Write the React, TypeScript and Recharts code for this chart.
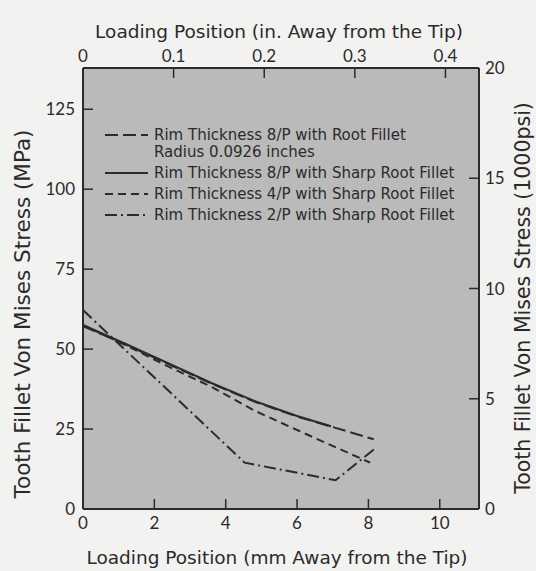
import { LineChart, Line, XAxis, YAxis, CartesianGrid } from "recharts";

// loading position in mm, stress in MPa
const rootFilletX = [0, 1.2, 2.4, 3.6, 4.8, 6.0, 6.95, 8.15];
const rootFilletY = [57.2, 51.4, 45.3, 39.2, 33.6, 28.9, 25.8, 21.8];
const sharp8X = [0, 1.2, 2.4, 3.6, 4.8, 6.0, 6.95];
const sharp8Y = [57.6, 51.6, 45.5, 39.4, 33.8, 29.1, 25.9];
const sharp4X = [0, 1.2, 2.4, 3.6, 4.8, 6.0, 7.2, 8.05];
const sharp4Y = [57.5, 51.2, 44.5, 38.2, 30.8, 24.7, 18.7, 14.5];
const sharp2X = [0, 4.53, 7.08, 8.16];
const sharp2Y = [62.2, 14.5, 9.0, 18.7];

const mmTicks = [0, 2, 4, 6, 8, 10];
const inchTicks = [0, 0.1, 0.2, 0.3, 0.4];
const mpaTicks = [0, 25, 50, 75, 100, 125];
const ksiTicks = [0, 5, 10, 15, 20];

const X_MAX_MM = 11.1;
const MM_PER_INCH = 25.4;
const Y_MAX_KSI = 20;
const MPA_PER_KSI = 6.895;

const toPoints = (xs: number[], ys: number[]) => xs.map((x, i) => ({ x, y: ys[i] }));

const series = [
  { name: "Rim Thickness 8/P with Root Fillet", sub: "Radius 0.0926 inches", data: toPoints(rootFilletX, rootFilletY), dash: "13 5" },
  { name: "Rim Thickness 8/P with Sharp Root Fillet", data: toPoints(sharp8X, sharp8Y), dash: undefined },
  { name: "Rim Thickness 4/P with Sharp Root Fillet", data: toPoints(sharp4X, sharp4Y), dash: "8 5" },
  { name: "Rim Thickness 2/P with Sharp Root Fillet", data: toPoints(sharp2X, sharp2Y), dash: "12 4 2 4" },
];

const INK = "#2b2b2b";
const TICK_FONT = "Lato, sans-serif";
const TEXT_FONT = "'DejaVu Sans', sans-serif";
const tickStyle = { fontSize: 17, fill: INK, fontFamily: TICK_FONT };
const axisLine = { stroke: INK, strokeWidth: 2 };
const tickLine = { stroke: INK, strokeWidth: 1.5 };

const Overlay = () => {
  let rowY = 135;
  return (
    <svg width={536} height={571} style={{ position: "absolute", left: 0, top: 0, pointerEvents: "none" }}>
      <g fontFamily={TEXT_FONT} fill={INK}>
        <text x={279} y={38} fontSize={18.5} textAnchor="middle">Loading Position (in. Away from the Tip)</text>
        <text x={277} y={564} fontSize={18.5} textAnchor="middle">Loading Position (mm Away from the Tip)</text>
        <text x={30} y={314} fontSize={21.5} textAnchor="middle" transform="rotate(-90 30 314)">
          Tooth Fillet Von Mises Stress (MPa)
        </text>
        <text x={530} y={298} fontSize={20.5} textAnchor="middle" transform="rotate(-90 530 298)">
          Tooth Fillet Von Mises Stress (1000psi)
        </text>
      </g>
      <g fontFamily={TEXT_FONT} fill={INK} fontSize={15}>
        {series.map((s) => {
          const y = rowY;
          rowY += s.sub ? 38 : 21;
          return (
            <g key={s.name}>
              <line x1={105} x2={148} y1={y} y2={y} stroke={INK} strokeWidth={2} strokeDasharray={s.dash} />
              <text x={154} y={y + 5}>{s.name}</text>
              {s.sub && <text x={154} y={y + 22}>{s.sub}</text>}
            </g>
          );
        })}
      </g>
    </svg>
  );
};

const App = () => (
  <div style={{ position: "absolute", left: 0, top: 0, width: 536, height: 571, background: "#f2f2f0" }}>
    <LineChart width={536} height={571} margin={{ top: 43, right: 17, bottom: 37, left: 43 }}>
      <CartesianGrid xAxisId="bottom" yAxisId="left" fill="#bababa" stroke="none" />
      <XAxis
        xAxisId="bottom"
        dataKey="x"
        type="number"
        domain={[0, X_MAX_MM]}
        ticks={mmTicks}
        allowDataOverflow
        height={25}
        tickSize={-10}
        tickMargin={18}
        axisLine={axisLine}
        tickLine={tickLine}
        tick={tickStyle}
      />
      <XAxis
        xAxisId="top"
        dataKey="x"
        orientation="top"
        type="number"
        domain={[0, X_MAX_MM]}
        ticks={inchTicks.map((v) => v * MM_PER_INCH)}
        tickFormatter={(_v: number, i: number) => String(inchTicks[i])}
        allowDataOverflow
        height={25}
        tickSize={-10}
        tickMargin={16}
        axisLine={axisLine}
        tickLine={tickLine}
        tick={tickStyle}
      />
      <YAxis
        yAxisId="left"
        type="number"
        domain={[0, Y_MAX_KSI * MPA_PER_KSI]}
        ticks={mpaTicks}
        allowDataOverflow
        width={40}
        tickSize={-10}
        tickMargin={18}
        axisLine={axisLine}
        tickLine={tickLine}
        tick={tickStyle}
      />
      <YAxis
        yAxisId="right"
        orientation="right"
        type="number"
        domain={[0, Y_MAX_KSI]}
        ticks={ksiTicks}
        allowDataOverflow
        width={40}
        tickSize={-10}
        tickMargin={16}
        axisLine={axisLine}
        tickLine={tickLine}
        tick={tickStyle}
      />
      {series.map((s) => (
        <Line
          key={s.name}
          xAxisId="bottom"
          yAxisId="left"
          data={s.data}
          dataKey="y"
          type="linear"
          stroke={INK}
          strokeWidth={2}
          strokeDasharray={s.dash}
          dot={false}
          isAnimationActive={false}
        />
      ))}
      {/* second x scale (inches) follows the first series so the top axis gets a domain */}
      <Line
        xAxisId="top"
        yAxisId="right"
        data={series[1].data}
        dataKey="y"
        stroke="none"
        dot={false}
        legendType="none"
        isAnimationActive={false}
      />
    </LineChart>
    <Overlay />
  </div>
);

export default App;
